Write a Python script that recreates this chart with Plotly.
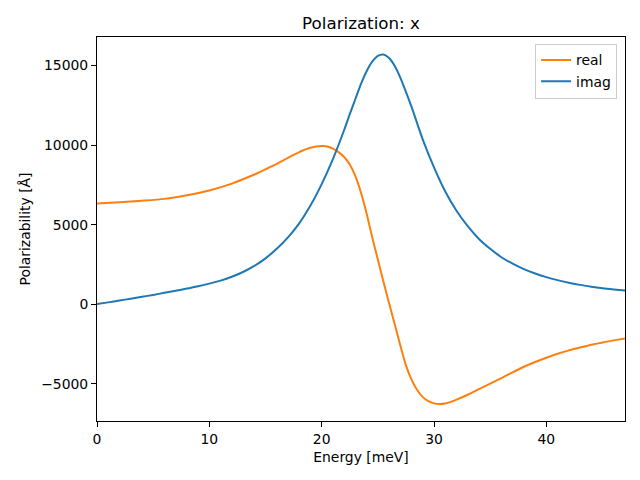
import plotly.graph_objects as go

# Energy grid (meV) and read-off values
energy_real = [0, 2, 4, 6, 8, 10, 12, 14, 15, 16, 17, 18, 19, 20, 20.5, 21, 21.5, 22, 22.5,
               23, 23.5, 24, 24.5, 25, 25.5, 26, 26.5, 27, 27.5, 28, 28.5, 29, 29.5, 30,
               30.5, 31, 31.5, 32, 33, 34, 35, 36, 37, 38, 39, 40, 41, 42, 43, 44, 45, 46, 47]
real_vals = [6330, 6400, 6500, 6620, 6850, 7150, 7580, 8150, 8480, 8820, 9200, 9560, 9830, 9940,
             9920, 9780, 9560, 9250, 8780, 8050, 7000, 5700, 4200, 2800, 1400, 50, -1250, -2600,
             -3850, -4750, -5400, -5850, -6100, -6240, -6280, -6250, -6150, -6010, -5700,
             -5350, -5000, -4650, -4290, -3940, -3640, -3370, -3120, -2910, -2730, -2560,
             -2410, -2280, -2160]

energy_imag = [0, 1, 2, 3, 4, 5, 6, 7, 8, 9, 10, 11, 12, 13, 14, 15, 16, 17, 18, 19, 20, 21,
               22, 22.5, 23, 23.5, 24, 24.5, 25, 25.5, 26, 26.5, 27, 27.5, 28, 29, 30, 31, 32,
               33, 34, 35, 36, 37, 38, 39, 40, 41, 42, 43, 44, 45, 46, 47]
imag_vals = [0, 110, 225, 340, 460, 580, 710, 840, 980, 1120, 1290, 1480, 1720, 2020, 2400,
             2880, 3480, 4200, 5080, 6200, 7550, 9120, 10950, 11950, 12900, 13850, 14650,
             15250, 15610, 15700, 15480, 14980, 14250, 13350, 12400, 10350, 8600, 7080, 5870,
             4900, 4100, 3480, 2950, 2540, 2200, 1930, 1700, 1510, 1350, 1210, 1100, 1000,
             920, 850]

x_ticks = [0, 10, 20, 30, 40]
y_ticks = [-5000, 0, 5000, 10000, 15000]
y_tick_text = ["\u22125000", "0", "5000", "10000", "15000"]

FONT = "DejaVu Sans"

fig = go.Figure()
fig.add_trace(go.Scatter(x=energy_real, y=real_vals, mode="lines", name="real",
                         line=dict(color="#ff7f0e", width=2, shape="spline", smoothing=0.6)))
fig.add_trace(go.Scatter(x=energy_imag, y=imag_vals, mode="lines", name="imag",
                         line=dict(color="#1f77b4", width=2, shape="spline", smoothing=0.6)))

axis_common = dict(showgrid=False, zeroline=False, showline=True, linecolor="black",
                   linewidth=1, mirror=True, ticks="outside", ticklen=5, tickwidth=1,
                   tickcolor="black", tickfont=dict(family=FONT, size=13.9, color="black"))

# the page body adds an 8px offset, so the figure is sized/margined to compensate
fig.update_layout(
    width=632, height=472,
    margin=dict(l=89, r=15, t=29, b=59),
    paper_bgcolor="white", plot_bgcolor="white",
    font=dict(family=FONT, color="black"),
    title=dict(text="Polarization: x", x=0.5, xref="paper", xanchor="center",
               y=1 - 15 / 472, yref="container", yanchor="middle",
               font=dict(family=FONT, size=16.7, color="black")),
    xaxis=dict(range=[0, 47], tickvals=x_ticks,
               title=dict(text="Energy [meV]", font=dict(family=FONT, size=13.9), standoff=6),
               **axis_common),
    yaxis=dict(range=[-7350, 16800], tickvals=y_ticks, ticktext=y_tick_text,
               title=dict(text="Polarizability [Å]", font=dict(family=FONT, size=13.9), standoff=7),
               **axis_common),
    legend=dict(x=0.985, y=0.983, xanchor="right", yanchor="top",
                bgcolor="rgba(255,255,255,0.8)", bordercolor="#cccccc", borderwidth=1,
                font=dict(family=FONT, size=13.9, color="black"), tracegroupgap=0,
                itemwidth=30),
    showlegend=True,
)

fig.write_html("out.html")
